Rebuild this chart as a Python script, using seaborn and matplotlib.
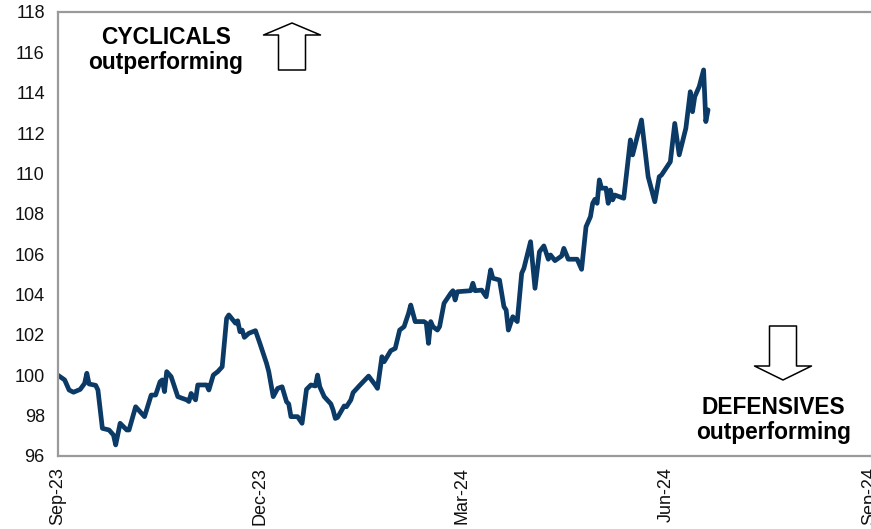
import matplotlib
matplotlib.use("Agg")
import matplotlib.pyplot as plt
import matplotlib.dates as mdates
import pandas as pd
import seaborn as sns

# Cyclicals vs defensives relative index (start = 100)
dates = [
    "2023-09-01", "2023-09-04", "2023-09-06", "2023-09-08", "2023-09-11", "2023-09-13",
    "2023-09-14", "2023-09-15", "2023-09-18", "2023-09-19", "2023-09-21", "2023-09-24",
    "2023-09-26", "2023-09-27", "2023-09-29", "2023-10-02", "2023-10-03", "2023-10-06",
    "2023-10-10", "2023-10-13", "2023-10-15", "2023-10-17", "2023-10-18", "2023-10-19",
    "2023-10-20", "2023-10-22", "2023-10-25", "2023-10-29", "2023-10-30", "2023-10-31",
    "2023-11-02", "2023-11-03", "2023-11-07", "2023-11-08", "2023-11-10", "2023-11-12",
    "2023-11-14", "2023-11-16", "2023-11-17", "2023-11-20", "2023-11-21", "2023-11-22",
    "2023-11-23", "2023-11-24", "2023-11-26", "2023-11-29", "2023-12-01", "2023-12-04",
    "2023-12-05", "2023-12-07", "2023-12-09", "2023-12-11", "2023-12-13", "2023-12-14",
    "2023-12-15", "2023-12-18", "2023-12-20", "2023-12-22", "2023-12-24", "2023-12-26",
    "2023-12-27", "2023-12-28", "2023-12-30", "2024-01-02", "2024-01-03", "2024-01-04",
    "2024-01-05", "2024-01-08", "2024-01-09", "2024-01-11", "2024-01-12", "2024-01-15",
    "2024-01-19", "2024-01-22", "2024-01-23", "2024-01-25", "2024-01-26", "2024-01-29",
    "2024-01-31", "2024-02-02", "2024-02-04", "2024-02-06", "2024-02-07", "2024-02-09",
    "2024-02-13", "2024-02-14", "2024-02-15", "2024-02-16", "2024-02-17", "2024-02-19",
    "2024-02-20", "2024-02-22", "2024-02-25", "2024-02-26", "2024-02-27", "2024-02-28",
    "2024-03-05", "2024-03-06", "2024-03-07", "2024-03-10", "2024-03-12", "2024-03-14",
    "2024-03-15", "2024-03-18", "2024-03-20", "2024-03-21", "2024-03-22", "2024-03-24",
    "2024-03-26", "2024-03-28", "2024-03-29", "2024-04-01", "2024-04-03", "2024-04-05",
    "2024-04-07", "2024-04-09", "2024-04-10", "2024-04-12", "2024-04-15", "2024-04-16",
    "2024-04-18", "2024-04-22", "2024-04-24", "2024-04-26", "2024-04-28", "2024-04-29",
    "2024-04-30", "2024-05-01", "2024-05-02", "2024-05-03", "2024-05-05", "2024-05-06",
    "2024-05-07", "2024-05-08", "2024-05-09", "2024-05-13", "2024-05-16", "2024-05-17",
    "2024-05-21", "2024-05-24", "2024-05-27", "2024-05-29", "2024-05-30", "2024-06-03",
    "2024-06-05", "2024-06-07", "2024-06-10", "2024-06-12", "2024-06-13", "2024-06-14",
    "2024-06-16", "2024-06-18", "2024-06-19", "2024-06-20",
]
relative_index = [
    100.00, 99.77, 99.27, 99.16, 99.30, 99.60,
    100.10, 99.57, 99.50, 99.27, 97.37, 97.29,
    97.04, 96.55, 97.62, 97.29, 97.29, 98.44,
    97.95, 99.02, 99.02, 99.68, 99.77, 99.19,
    100.18, 99.93, 98.94, 98.78, 98.70, 99.10,
    98.78, 99.52, 99.52, 99.27, 100.01, 100.18,
    100.42, 102.82, 102.99, 102.58, 102.70, 102.16,
    102.24, 101.88, 102.08, 102.21, 101.58, 100.59,
    100.18, 98.94, 99.35, 99.43, 98.69, 98.58,
    97.95, 97.95, 97.62, 99.30, 99.52, 99.47,
    100.01, 99.43, 98.94, 98.58, 98.28, 97.86,
    97.91, 98.48, 98.44, 98.78, 99.14, 99.50,
    99.96, 99.52, 99.35, 100.92, 100.67, 101.22,
    101.33, 102.24, 102.41, 103.07, 103.48, 102.66,
    102.66, 102.58, 101.58, 102.66, 102.41, 102.24,
    102.41, 103.57, 104.06, 104.19, 103.73, 104.14,
    104.19, 104.56, 104.19, 104.22, 103.89, 105.22,
    104.81, 104.72, 103.40, 103.23, 102.24, 102.90,
    102.66, 105.05, 105.30, 106.62, 104.31, 106.12,
    106.41, 105.75, 105.96, 105.68, 105.91, 106.29,
    105.75, 105.75, 105.25, 107.36, 107.86, 108.52,
    108.72, 108.52, 109.68, 109.27, 109.27, 108.52,
    109.18, 108.69, 108.93, 108.77, 111.66, 110.92,
    112.65, 109.84, 108.60, 109.84, 109.92, 110.58,
    112.48, 110.92, 112.24, 114.05, 113.06, 113.80,
    114.30, 115.13, 112.57, 113.15,
]

x_ticks = ["2023-09-01", "2023-12-01", "2024-03-01", "2024-06-01", "2024-09-01"]
y_ticks = [96, 98, 100, 102, 104, 106, 108, 110, 112, 114, 116, 118]

df = pd.DataFrame({"date": pd.to_datetime(dates), "value": relative_index})

sns.set_style("white")
plt.rcParams["font.family"] = ["Liberation Sans", "DejaVu Sans"]

LINE = "#0b3a66"
SPINE = "#9a9a9a"

fig = plt.figure(figsize=(8.71, 5.29), dpi=100)
W, H = 871, 529
ax = fig.add_axes([58 / W, (H - 456) / H, (870 - 58) / W, (456 - 12) / H])

sns.lineplot(data=df, x="date", y="value", ax=ax, color=LINE, linewidth=3.4,
             solid_joinstyle="round", solid_capstyle="round")

ax.set_xlim(pd.Timestamp(x_ticks[0]), pd.Timestamp(x_ticks[-1]))
ax.set_ylim(y_ticks[0], y_ticks[-1])
ax.set_yticks(y_ticks)
ax.set_xticks(pd.to_datetime(x_ticks))
ax.xaxis.set_major_formatter(mdates.DateFormatter("%b-%y"))
ax.set_xlabel("")
ax.set_ylabel("")

for side in ["left", "bottom", "top"]:
    ax.spines[side].set_visible(True)
    ax.spines[side].set_color(SPINE)
    ax.spines[side].set_linewidth(1.6)
ax.spines["right"].set_visible(False)

ax.tick_params(axis="both", which="major", direction="out", length=4, width=1.4,
               color=SPINE, labelsize=13, labelcolor="#111111")
ax.tick_params(axis="x", labelrotation=90, pad=4)
ax.tick_params(axis="y", pad=5.5)
ax.grid(False)

# Annotation arrows (hollow block arrows) in figure pixel coordinates
def block_arrow(tail_xy, tip_xy, head_len, head_w, tail_w):
    pt = 72 / fig.dpi
    ax.annotate(
        "", xy=tip_xy, xytext=tail_xy, xycoords="figure pixels", textcoords="figure pixels",
        arrowprops=dict(
            arrowstyle=f"simple,head_length={head_len * pt},head_width={head_w * pt},tail_width={tail_w * pt}",
            mutation_scale=1, facecolor="white", edgecolor="black", linewidth=1.1,
            shrinkA=0, shrinkB=0,
        ),
        annotation_clip=False,
    )

block_arrow((292, H - 70), (292, H - 23), 12, 57, 27)
block_arrow((783, H - 326), (783, H - 380), 14, 57, 27)

label_kw = dict(ha="center", va="center", fontsize=16.4, fontweight="bold", color="black")
fig.text(166 / W, (H - 37) / H, "CYCLICALS", **label_kw)
fig.text(166 / W, (H - 63) / H, "outperforming", **label_kw)
fig.text(773 / W, (H - 407) / H, "DEFENSIVES", **label_kw)
fig.text(774 / W, (H - 433) / H, "outperforming", **label_kw)

fig.savefig("out.png", dpi=100)
